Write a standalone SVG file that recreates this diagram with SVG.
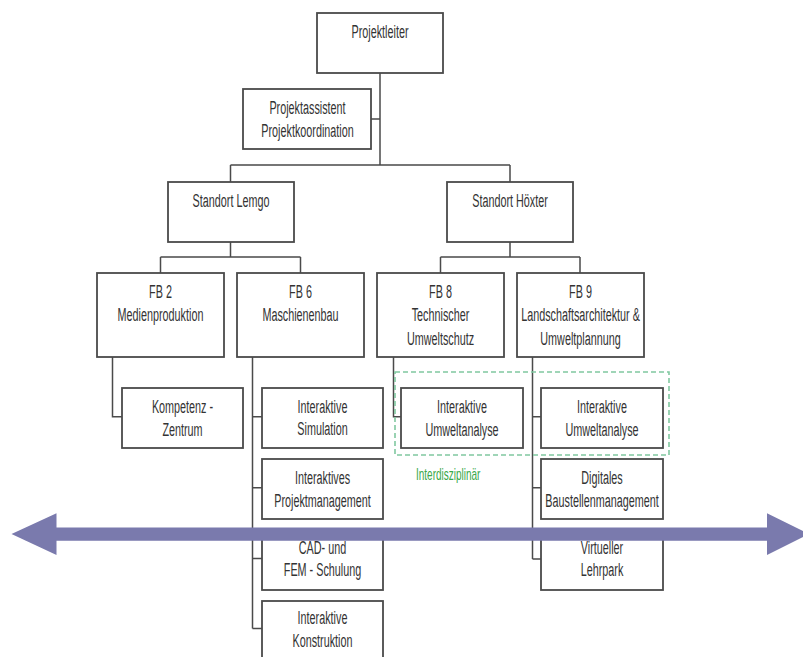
<svg xmlns="http://www.w3.org/2000/svg" width="803" height="657" viewBox="0 0 803 657">
  <style>
    .box { fill: #ffffff; stroke: #4a4a4a; stroke-width: 1.8; }
    .wire { fill: none; stroke: #4a4a4a; stroke-width: 1.5; }
    .t { font-family: "Liberation Sans", Arial, sans-serif; font-size: 10.8px; fill: #333333; text-anchor: middle; }
    .note { font-family: "Liberation Sans", Arial, sans-serif; font-size: 10px; fill: #3aa84a; }
    .group { fill: none; stroke: #80c8a0; stroke-width: 1.6; stroke-dasharray: 5 3; }
    .band { fill: #7a7aad; }
  </style>
  <rect width="803" height="657" fill="#ffffff"/>

  <!-- connectors -->
  <g id="connectors">
    <path class="wire" d="M380 73 V165 M371 119 H380 M230.5 165 H510"/>
    <path class="wire" d="M230.5 165 V182 M510 165 V182"/>
    <path class="wire" d="M230.5 242 V257 M160.5 257 H300.5 M160.5 257 V273 M300.5 257 V273"/>
    <path class="wire" d="M510 242 V257 M440.5 257 H580 M440.5 257 V273 M580 257 V273"/>
    <path class="wire" d="M112.5 357 V416.7 H122"/>
    <path class="wire" d="M252.5 357 V628.5 M252.5 416.7 H262 M252.5 487.7 H262 M252.5 558.5 H262 M252.5 628.5 H262"/>
    <path class="wire" d="M393.5 357 V416.7 H401"/>
    <path class="wire" d="M532.5 357 V559 M532.5 416.7 H541 M532.5 487.7 H541 M532.5 559 H541"/>
  </g>

  <!-- top level -->
  <g id="projektleiter">
    <rect class="box" x="317" y="13" width="126" height="60"/>
    <text class="t" transform="translate(380 37.5) scale(1 1.65)">Projektleiter</text>
  </g>
  <g id="projektassistent">
    <rect class="box" x="243" y="89" width="128" height="60"/>
    <text class="t" transform="translate(307.5 114) scale(1 1.65)"><tspan x="0">Projektassistent</tspan><tspan x="0" dy="14.2">Projektkoordination</tspan></text>
  </g>

  <!-- sites -->
  <g id="standort-lemgo">
    <rect class="box" x="168" y="182" width="126" height="60"/>
    <text class="t" transform="translate(231 206.5) scale(1 1.65)">Standort Lemgo</text>
  </g>
  <g id="standort-hoexter">
    <rect class="box" x="447" y="182" width="126" height="60"/>
    <text class="t" transform="translate(510 206.5) scale(1 1.65)">Standort Höxter</text>
  </g>

  <!-- departments -->
  <g id="fb2">
    <rect class="box" x="97" y="273" width="127" height="84"/>
    <text class="t" transform="translate(160.5 297.7) scale(1 1.65)"><tspan x="0">FB 2</tspan><tspan x="0" dy="14">Medienproduktion</tspan></text>
  </g>
  <g id="fb6">
    <rect class="box" x="237" y="273" width="127" height="84"/>
    <text class="t" transform="translate(300.5 297.7) scale(1 1.65)"><tspan x="0">FB 6</tspan><tspan x="0" dy="14">Maschienenbau</tspan></text>
  </g>
  <g id="fb8">
    <rect class="box" x="377" y="273" width="127" height="84"/>
    <text class="t" transform="translate(440.5 297.7) scale(1 1.65)"><tspan x="0">FB 8</tspan><tspan x="0" dy="14.2">Technischer</tspan><tspan x="0" dy="14.2">Umweltschutz</tspan></text>
  </g>
  <g id="fb9">
    <rect class="box" x="517" y="273" width="127" height="84"/>
    <text class="t" transform="translate(580.5 297.7) scale(1 1.65)"><tspan x="0">FB 9</tspan><tspan x="0" dy="14.2">Landschaftsarchitektur &amp;</tspan><tspan x="0" dy="14.2">Umweltplannung</tspan></text>
  </g>

  <!-- projects -->
  <g id="kompetenz-zentrum">
    <rect class="box" x="122" y="388" width="121" height="60"/>
    <text class="t" transform="translate(182.5 412.5) scale(1 1.65)"><tspan x="0">Kompetenz -</tspan><tspan x="0" dy="14">Zentrum</tspan></text>
  </g>
  <g id="interaktive-simulation">
    <rect class="box" x="262" y="388" width="121" height="60"/>
    <text class="t" transform="translate(322.5 412.5) scale(1 1.65)"><tspan x="0">Interaktive</tspan><tspan x="0" dy="13.9">Simulation</tspan></text>
  </g>
  <g id="projektmanagement">
    <rect class="box" x="262" y="459" width="121" height="60"/>
    <text class="t" transform="translate(322.5 483.5) scale(1 1.65)"><tspan x="0">Interaktives</tspan><tspan x="0" dy="14">Projektmanagement</tspan></text>
  </g>
  <g id="cad-fem">
    <rect class="box" x="262" y="530" width="121" height="60"/>
    <text class="t" transform="translate(322.5 553.8) scale(1 1.65)"><tspan x="0">CAD- und</tspan><tspan x="0" dy="13.6">FEM - Schulung</tspan></text>
  </g>
  <g id="interaktive-konstruktion">
    <rect class="box" x="262" y="601" width="121" height="60"/>
    <text class="t" transform="translate(322.5 624.3) scale(1 1.65)"><tspan x="0">Interaktive</tspan><tspan x="0" dy="13.8">Konstruktion</tspan></text>
  </g>
  <g id="umweltanalyse-fb8">
    <rect class="box" x="401" y="388" width="122" height="60"/>
    <text class="t" transform="translate(462 412.5) scale(1 1.65)"><tspan x="0">Interaktive</tspan><tspan x="0" dy="14">Umweltanalyse</tspan></text>
  </g>
  <g id="umweltanalyse-fb9">
    <rect class="box" x="541" y="388" width="122" height="60"/>
    <text class="t" transform="translate(602 412.5) scale(1 1.65)"><tspan x="0">Interaktive</tspan><tspan x="0" dy="14">Umweltanalyse</tspan></text>
  </g>
  <g id="baustellenmanagement">
    <rect class="box" x="541" y="459" width="122" height="60"/>
    <text class="t" transform="translate(602 483.5) scale(1 1.65)"><tspan x="0">Digitales</tspan><tspan x="0" dy="14">Baustellenmanagement</tspan></text>
  </g>
  <g id="virtueller-lehrpark">
    <rect class="box" x="541" y="530" width="122" height="60"/>
    <text class="t" transform="translate(602 553.8) scale(1 1.65)"><tspan x="0">Virtueller</tspan><tspan x="0" dy="13.6">Lehrpark</tspan></text>
  </g>

  <!-- interdisciplinary grouping -->
  <g id="interdisziplinaer">
    <rect class="group" x="395" y="372" width="274" height="83"/>
    <text class="note" transform="translate(416 479.5) scale(1 1.6)">Interdisziplinär</text>
  </g>

  <!-- double-headed band across the chart -->
  <g id="band">
    <polygon class="band" points="11.5,534 56.5,513.3 56.5,527.5 767,527.5 767,513.3 809,534 767,555 767,540.7 56.5,540.7 56.5,555"/>
  </g>
</svg>
